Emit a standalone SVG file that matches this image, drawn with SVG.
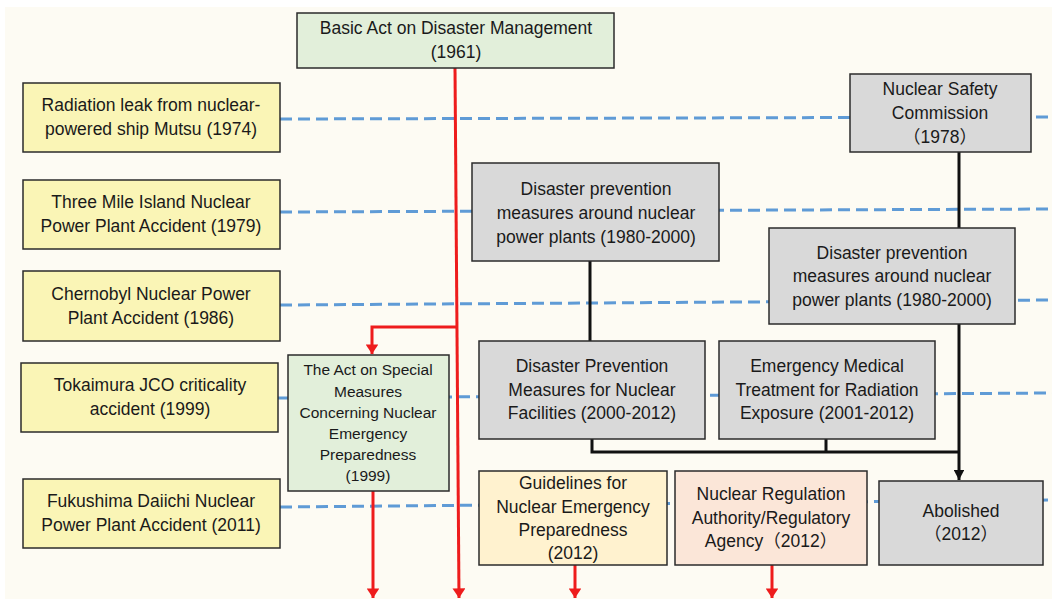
<svg xmlns="http://www.w3.org/2000/svg" width="1052" height="599" viewBox="0 0 1052 599">
<defs>
<marker id="ar" viewBox="0 0 10 10" refX="10" refY="5" markerWidth="3.2" markerHeight="4.3" markerUnits="strokeWidth" orient="auto" preserveAspectRatio="none"><path d="M0,0 L10,5 L0,10 Z" fill="#ee1c1c"/></marker>
<marker id="ak" viewBox="0 0 10 10" refX="10" refY="5" markerWidth="3.3" markerHeight="3.5" markerUnits="strokeWidth" orient="auto" preserveAspectRatio="none"><path d="M0,0 L10,5 L0,10 Z" fill="#111"/></marker>
<style>
.t{font-family:"Liberation Sans","Noto Sans CJK JP",sans-serif;font-size:17.5px;fill:#1a1a1a;text-anchor:middle}
.s{font-size:15.5px}
.b{stroke:#2b2b2b;stroke-width:1.5}
.y{fill:#faf5b6}
.g{fill:#e2efda}
.gr{fill:#d9d9d9}
.o{fill:#fff2cf}
.p{fill:#fbe6d8}
.d{stroke:#5f9bd6;stroke-width:3;stroke-dasharray:12 6;fill:none}
.r{stroke:#ee1c1c;stroke-width:3;fill:none}
.k{stroke:#111;stroke-width:3;fill:none}
</style>
</defs>
<rect x="0" y="0" width="1052" height="599" fill="#ffffff"/>
<rect x="5" y="7" width="1047" height="592" fill="#fdfbf3"/>
<g id="connectors">
<path class="d" d="M280,119 L1052,117"/>
<path class="d" d="M280,212 L1052,209"/>
<path class="d" d="M280,305 L1052,300"/>
<path class="d" d="M278,398 L1052,393"/>
<path class="d" d="M280,507 L1052,500"/>
<path class="k" d="M959,152 V228"/>
<path class="k" d="M590,261 V341"/>
<path class="k" d="M592,439 V452 H958"/>
<path class="k" d="M826,439 V452"/>
<path class="k" d="M959,324 V480" marker-end="url(#ak)"/>
<path class="r" d="M455,68 L459,598" marker-end="url(#ar)"/>
<path class="r" d="M457,327 H372 V354" marker-end="url(#ar)"/>
<path class="r" d="M373,491 V598" marker-end="url(#ar)"/>
<path class="r" d="M575,565 V598" marker-end="url(#ar)"/>
<path class="r" d="M772,565 V598" marker-end="url(#ar)"/>
</g>
<g id="basic-act"><rect class="b g" x="297" y="13" width="317" height="55"/><text class="t" x="456" y="34">Basic Act on Disaster Management</text><text class="t" x="456" y="58">(1961)</text></g>
<g id="mutsu"><rect class="b y" x="23" y="83" width="257" height="69"/><text class="t" x="151" y="111">Radiation leak from nuclear-</text><text class="t" x="151" y="135">powered ship Mutsu (1974)</text></g>
<g id="tmi"><rect class="b y" x="23" y="180" width="257" height="69"/><text class="t" x="151" y="208">Three Mile Island Nuclear</text><text class="t" x="151" y="232">Power Plant Accident (1979)</text></g>
<g id="chernobyl"><rect class="b y" x="23" y="271" width="257" height="70"/><text class="t" x="151" y="300">Chernobyl Nuclear Power</text><text class="t" x="151" y="324">Plant Accident (1986)</text></g>
<g id="tokaimura"><rect class="b y" x="21" y="363" width="257" height="69"/><text class="t" x="150" y="391">Tokaimura JCO criticality</text><text class="t" x="150" y="415">accident (1999)</text></g>
<g id="fukushima"><rect class="b y" x="23" y="479" width="257" height="69"/><text class="t" x="151" y="507">Fukushima Daiichi Nuclear</text><text class="t" x="151" y="531">Power Plant Accident (2011)</text></g>
<g id="special-act"><rect class="b g" x="288" y="355" width="161" height="136"/><text class="t s" x="368" y="375">The Act on Special</text><text class="t s" x="368" y="397">Measures</text><text class="t s" x="368" y="418">Concerning Nuclear</text><text class="t s" x="368" y="439">Emergency</text><text class="t s" x="368" y="460">Preparedness</text><text class="t s" x="368" y="481">(1999)</text></g>
<g id="nsc"><rect class="b gr" x="850" y="74" width="181" height="78"/><text class="t" x="940" y="95">Nuclear Safety</text><text class="t" x="940" y="119">Commission</text><text class="t" x="940" y="143">（1978）</text></g>
<g id="dp-left"><rect class="b gr" x="472" y="163" width="247" height="98"/><text class="t" x="596" y="195">Disaster prevention</text><text class="t" x="596" y="219">measures around nuclear</text><text class="t" x="596" y="243">power plants (1980-2000)</text></g>
<g id="dp-right"><rect class="b gr" x="769" y="228" width="246" height="96"/><text class="t" x="892" y="259">Disaster prevention</text><text class="t" x="892" y="282">measures around nuclear</text><text class="t" x="892" y="306">power plants (1980-2000)</text></g>
<g id="dpm"><rect class="b gr" x="479" y="341" width="226" height="98"/><text class="t" x="592" y="372">Disaster Prevention</text><text class="t" x="592" y="396">Measures for Nuclear</text><text class="t" x="592" y="419">Facilities (2000-2012)</text></g>
<g id="emt"><rect class="b gr" x="719" y="341" width="216" height="98"/><text class="t" x="827" y="372">Emergency Medical</text><text class="t" x="827" y="396">Treatment for Radiation</text><text class="t" x="827" y="419">Exposure (2001-2012)</text></g>
<g id="guidelines"><rect class="b o" x="479" y="471" width="188" height="94"/><text class="t" x="573" y="489">Guidelines for</text><text class="t" x="573" y="513">Nuclear Emergency</text><text class="t" x="573" y="536">Preparedness</text><text class="t" x="573" y="559">(2012)</text></g>
<g id="nra"><rect class="b p" x="675" y="471" width="192" height="94"/><text class="t" x="771" y="500">Nuclear Regulation</text><text class="t" x="771" y="524">Authority/Regulatory</text><text class="t" x="771" y="547">Agency（2012）</text></g>
<g id="abolished"><rect class="b gr" x="879" y="481" width="164" height="84"/><text class="t" x="961" y="517">Abolished</text><text class="t" x="961" y="540">（2012）</text></g>
</svg>
